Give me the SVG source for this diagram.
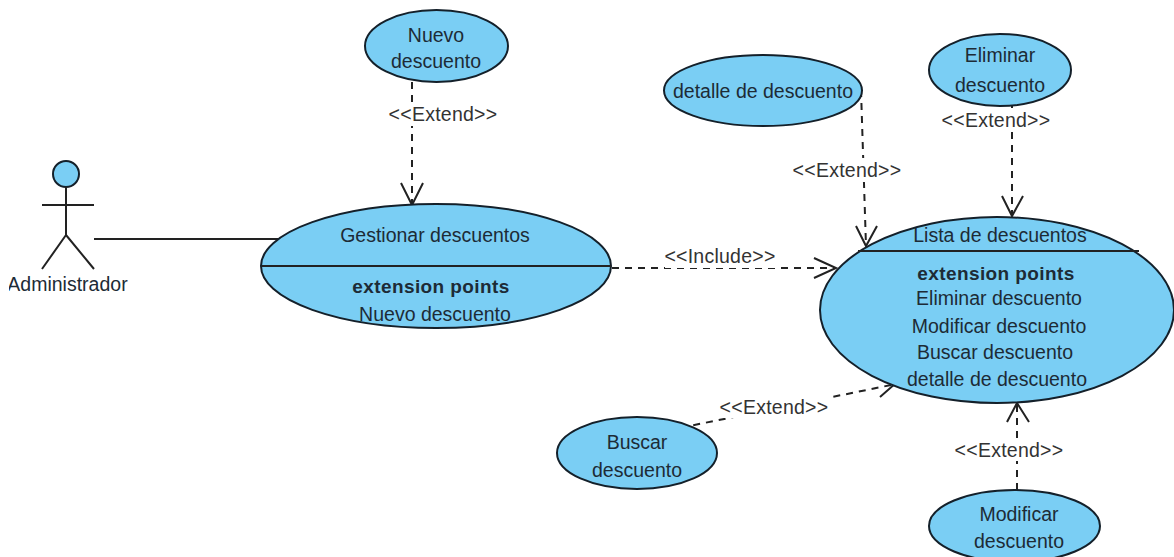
<svg xmlns="http://www.w3.org/2000/svg" width="1174" height="557" viewBox="0 0 1174 557">
<style>
.n{fill:#7acef4;stroke:#14202a;stroke-width:2}
.l{fill:none;stroke:#222;stroke-width:2}
.d{fill:none;stroke:#222;stroke-width:2;stroke-dasharray:7 6}
text{font-family:"Liberation Sans",Arial,sans-serif;font-size:19.5px;fill:#1d2b36;text-anchor:middle}
.b{font-weight:bold;font-size:19px}
.x{letter-spacing:.25px;fill:#333}
</style>
<rect width="1174" height="557" fill="#fff"/>
<g id="connectors">
<path class="l" d="M94 239H280"/>
<path class="d" d="M412 82V205"/><path class="l" d="M401 183L412 205L423 183"/>
<path class="d" d="M612 268H836"/><path class="l" d="M814 258L836 268L814 278"/>
<path class="d" d="M861 90L866 246"/><path class="l" d="M856 226L866 246L877 226"/>
<path class="d" d="M1012 106V215"/><path class="l" d="M1002 196L1012 216L1023 196"/>
<path class="d" d="M655 433L896 384"/><path class="l" d="M874 376L896 383L880 397"/>
<path class="d" d="M1017 490V403"/><path class="l" d="M1007 422L1017 403L1029 422"/>
</g>
<g id="actor">
<circle class="n" cx="66" cy="174" r="13"/>
<path class="l" d="M66 187V236M42 205H94M66 235L42 269M66 235L94 269"/>
<text x="67.5" y="291">Administrador</text>
<rect x="0" y="270" width="9" height="25" fill="#fff"/>
</g>
<g id="nuevo"><ellipse class="n" cx="436.5" cy="46" rx="71.5" ry="36"/><text x="436" y="42">Nuevo</text><text x="436" y="68">descuento</text></g>
<g id="gestionar"><ellipse class="n" cx="436" cy="266" rx="175" ry="62"/><path class="l" d="M262 266H611"/><text x="435" y="242">Gestionar descuentos</text><text class="b" x="431" y="293" letter-spacing=".4">extension points</text><text x="435" y="321">Nuevo descuento</text></g>
<g id="detalle"><ellipse class="n" cx="763" cy="90.500" rx="99" ry="35.500"/><text x="763" y="98">detalle de descuento</text></g>
<g id="eliminar"><ellipse class="n" cx="1000" cy="70" rx="71" ry="36"/><text x="1000" y="62">Eliminar</text><text x="1000" y="92">descuento</text></g>
<g id="lista"><ellipse class="n" cx="997" cy="310" rx="177" ry="93"/><path class="l" d="M858 251H1139"/><text x="1000" y="242">Lista de descuentos</text><text class="b" x="996" y="280" letter-spacing=".4">extension points</text><text x="999" y="305">Eliminar descuento</text><text x="999" y="333">Modificar descuento</text><text x="995" y="359">Buscar descuento</text><text x="997" y="386">detalle de descuento</text></g>
<g id="buscar"><ellipse class="n" cx="637" cy="453" rx="80" ry="36"/><text x="637" y="449">Buscar</text><text x="637" y="477">descuento</text></g>
<g id="modificar"><ellipse class="n" cx="1014.500" cy="526" rx="85.500" ry="36"/><text x="1019" y="521">Modificar</text><text x="1019" y="548">descuento</text></g>
<g id="labels">
<rect x="388" y="102" width="110" height="24" fill="#fff"/><text class="x" x="443" y="121">&lt;&lt;Extend&gt;&gt;</text>
<rect x="665" y="246" width="110" height="22" fill="#fff"/><text class="x" x="720" y="263">&lt;&lt;Include&gt;&gt;</text>
<rect x="793" y="158" width="108" height="24" fill="#fff"/><text class="x" x="847" y="177">&lt;&lt;Extend&gt;&gt;</text>
<rect x="942" y="108" width="108" height="24" fill="#fff"/><text class="x" x="996" y="127">&lt;&lt;Extend&gt;&gt;</text>
<rect x="720" y="394" width="108" height="24" fill="#fff"/><text class="x" x="774" y="414">&lt;&lt;Extend&gt;&gt;</text>
<rect x="955" y="439" width="108" height="22" fill="#fff"/><text class="x" x="1009" y="457">&lt;&lt;Extend&gt;&gt;</text>
</g>
</svg>
